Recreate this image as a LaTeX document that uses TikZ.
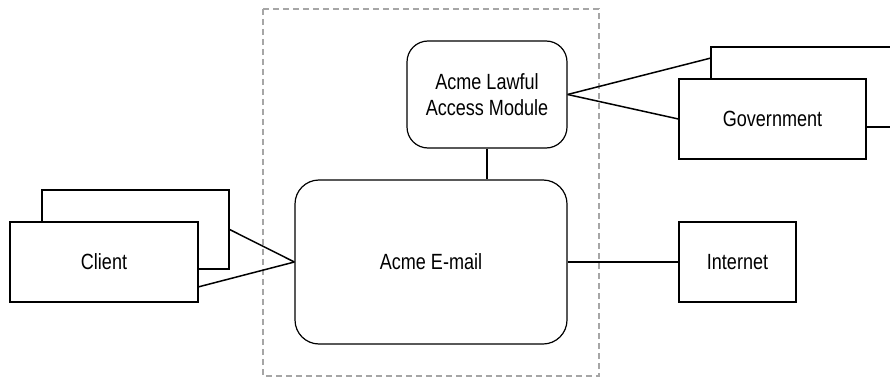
\documentclass[tikz,border=0pt]{standalone}
\usepackage{fontspec}
\setmainfont[FakeStretch=0.82]{Liberation Sans}
\begin{document}
\begin{tikzpicture}[x=1pt,y=-1pt,line width=1.2pt,
  box/.style={draw,fill=white,rectangle,inner sep=0pt},
  rbox/.style={draw,fill=white,rectangle,rounded corners=24pt,inner sep=0pt,align=center},
  link/.style={draw,line width=1.5pt}]
\useasboundingbox (0,0) rectangle (890,377);
\fontsize{22}{26}\selectfont
% system boundary
\draw[gray!70,line width=1.1pt,dash pattern=on 6pt off 4pt] (263,9) rectangle (599,376);

\node[rbox,minimum width=160pt,minimum height=107pt,rounded corners=21pt](lawful) at (487,94.5) {Acme Lawful\\Access Module};
\node[rbox,minimum width=272pt,minimum height=164pt](email) at (431,262) {Acme E-mail};

\node[box,minimum width=187pt,minimum height=80pt](govback) at (804.5,87) {};
\node[box,minimum width=187pt,minimum height=80pt](gov) at (772.5,119) {Government};

\node[box,minimum width=187pt,minimum height=79pt](clientback) at (135.5,229.5) {};
\node[box,minimum width=188pt,minimum height=80pt](client) at (104,262) {Client};

\node[box,minimum width=117pt,minimum height=80pt](internet) at (737.5,262) {Internet};

\coordinate (govtip) at (711,58);
\coordinate (clienttip) at (198,287);

\draw[link] (lawful.south) -- (lawful.south |- email.north);
\draw[link] (lawful.east) -- (govtip);
\draw[link] (lawful.east) -- (gov.west);
\draw[link] (clientback.east) -- (email.west);
\draw[link] (clienttip) -- (email.west);
\draw[link] (email.east) -- (internet.west);
\end{tikzpicture}
\end{document}
